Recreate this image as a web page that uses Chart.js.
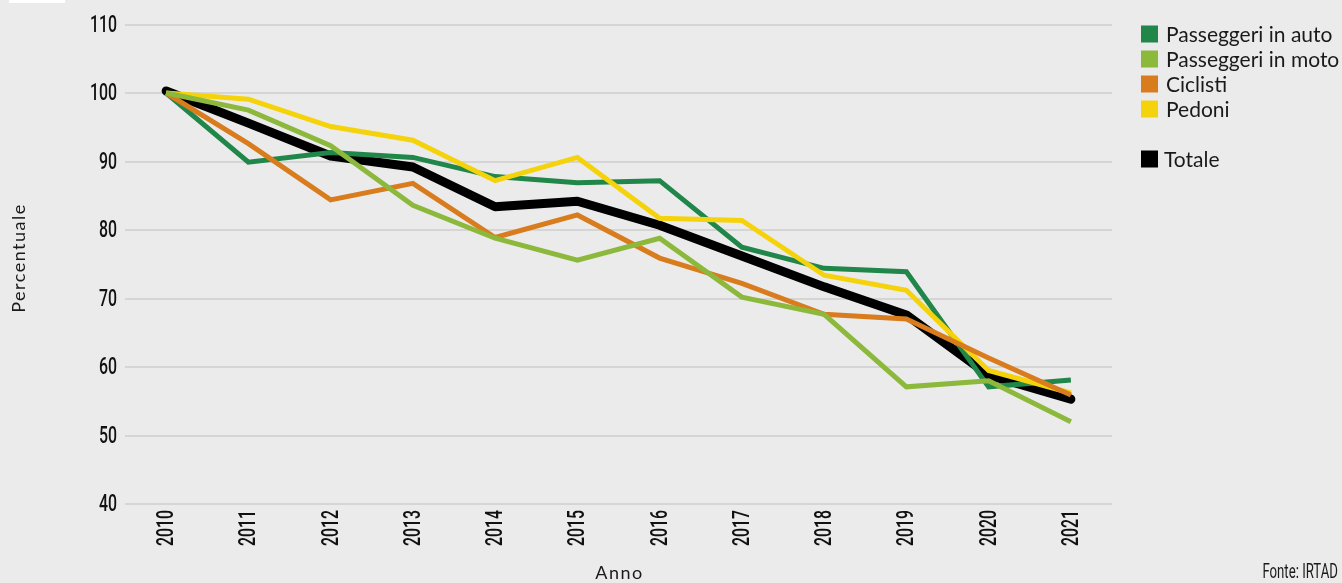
<!DOCTYPE html>
<html>
<head>
<meta charset="utf-8">
<script src="https://cdn.jsdelivr.net/npm/chart.js@4"></script>
<style>
  html, body { margin: 0; padding: 0; background: #ebebeb; }
  #wrap { width: 1342px; height: 583px; position: relative; }
</style>
</head>
<body>
<div id="wrap"><canvas id="grafico"></canvas></div>
<script>
// anni e serie (indice 2010 = 100)
var anni = ["2010", "2011", "2012", "2013", "2014", "2015", "2016", "2017", "2018", "2019", "2020", "2021"];
var passeggeriAuto = [100, 89.9, 91.3, 90.6, 87.8, 86.9, 87.2, 77.5, 74.4, 73.9, 57.1, 58.1];
var passeggeriMoto = [100, 97.5, 92.3, 83.6, 78.8, 75.6, 78.8, 70.2, 67.7, 57.1, 58.0, 52.0];
var ciclisti = [100, 92.6, 84.4, 86.8, 78.9, 82.2, 75.9, 72.2, 67.7, 67.0, 61.3, 55.9];
var pedoni = [100, 99.1, 95.1, 93.1, 87.2, 90.6, 81.7, 81.4, 73.4, 71.2, 59.5, 56.2];
var totale = [100.3, 95.6, 90.8, 89.2, 83.4, 84.2, 80.7, 76.2, 71.7, 67.6, 58.8, 55.3];
var tickY = [40, 50, 60, 70, 80, 90, 100, 110];

var fontStretto = "500 24px Roboto, sans-serif"; // scritto stretto con scale(0.66,1)
var fontTesto = "Lato, 'Noto Sans', sans-serif";

// testo condensato: il font non c'e', lo schiaccio in orizzontale
function testoStretto(c, txt, x, y, ang, align) {
  c.save();
  c.translate(x, y);
  if (ang) c.rotate(ang);
  c.scale(0.66, 1);
  c.textAlign = align;
  c.textBaseline = 'middle';
  c.fillText(txt, 0, 0);
  c.restore();
}

var extra = {
  id: 'extra',
  beforeDraw: function (chart) {
    var c = chart.ctx;
    c.save();
    c.fillStyle = '#ebebeb';
    c.fillRect(0, 0, chart.width, chart.height);
    c.fillStyle = '#ffffff';
    c.fillRect(9, 0, 56, 3);
    c.restore();
  },
  afterDraw: function (chart) {
    var c = chart.ctx;
    var sx = chart.scales.x, sy = chart.scales.y;
    c.save();
    c.fillStyle = '#111111';
    c.font = fontStretto;
    // etichette asse y
    sy.ticks.forEach(function (t) {
      testoStretto(c, String(t.value), 117, sy.getPixelForValue(t.value) + 1, 0, 'right');
    });
    // etichette asse x, ruotate
    anni.forEach(function (a, i) {
      testoStretto(c, a, sx.getPixelForValue(i) + 1, 510, -Math.PI / 2, 'right');
    });
    // titoli degli assi
    c.fillStyle = '#1a1a1a';
    c.font = '18px ' + fontTesto;
    c.letterSpacing = '1.5px';
    c.textAlign = 'center';
    c.textBaseline = 'middle';
    c.fillText('Anno', (chart.chartArea.left + chart.chartArea.right) / 2 + 1, 573);
    c.save();
    c.translate(19, 258);
    c.rotate(-Math.PI / 2);
    c.fillText('Percentuale', 0, 0);
    c.restore();
    c.letterSpacing = '0px';
    // legenda
    var ordine = [1, 4, 3, 2, null, 0];
    var y = 34;
    ordine.forEach(function (i) {
      if (i === null) { y += 25; return; }
      var ds = chart.data.datasets[i];
      c.fillStyle = ds.borderColor;
      c.fillRect(1141, y - 8.5, 17, 17);
      c.fillStyle = '#1a1a1a';
      c.font = '21px ' + fontTesto;
      c.textAlign = 'left';
      c.textBaseline = 'middle';
      c.fillText(ds.label, i === 0 ? 1164 : 1166, y + 1);
      y += 25;
    });
    // fonte
    c.fillStyle = '#1a1a1a';
    c.font = "20px Roboto, sans-serif";
    testoStretto(c, 'Fonte: IRTAD', 1338, 573, 0, 'right');
    c.restore();
  }
};

var ctx = document.getElementById("grafico").getContext("2d");
var grafico = new Chart(ctx, {
  type: 'line',
  data: {
    labels: anni,
    datasets: [
      { label: 'Totale', data: totale, borderColor: '#000000', borderWidth: 9, order: 5,
        borderCapStyle: 'round', borderJoinStyle: 'round' },
      { label: 'Passeggeri in auto', data: passeggeriAuto, borderColor: '#21864a', borderWidth: 5, order: 4 },
      { label: 'Pedoni', data: pedoni, borderColor: '#f5d30c', borderWidth: 5, order: 3 },
      { label: 'Ciclisti', data: ciclisti, borderColor: '#d97c1d', borderWidth: 5, order: 2 },
      { label: 'Passeggeri in moto', data: passeggeriMoto, borderColor: '#8cb83c', borderWidth: 5, order: 1 }
    ]
  },
  options: {
    responsive: true,
    maintainAspectRatio: false,
    animation: false,
    layout: { padding: { top: 24.5, right: 230, bottom: 0, left: 0 } },
    elements: { point: { radius: 0 }, line: { tension: 0 } },
    plugins: {
      legend: { display: false },
      tooltip: { enabled: false }
    },
    scales: {
      x: {
        offset: true,
        grid: { display: false },
        border: { display: false },
        ticks: { display: false },
        afterFit: function (s) { s.height = 79; }
      },
      y: {
        min: 40, max: 110,
        afterBuildTicks: function (s) { s.ticks = tickY.map(function (v) { return { value: v }; }); },
        grid: { color: '#d5d5d5', lineWidth: 2, drawTicks: false },
        border: { display: false },
        ticks: { display: false },
        afterFit: function (s) { s.width = 125; }
      }
    }
  },
  plugins: [extra]
});
</script>
</body>
</html>
